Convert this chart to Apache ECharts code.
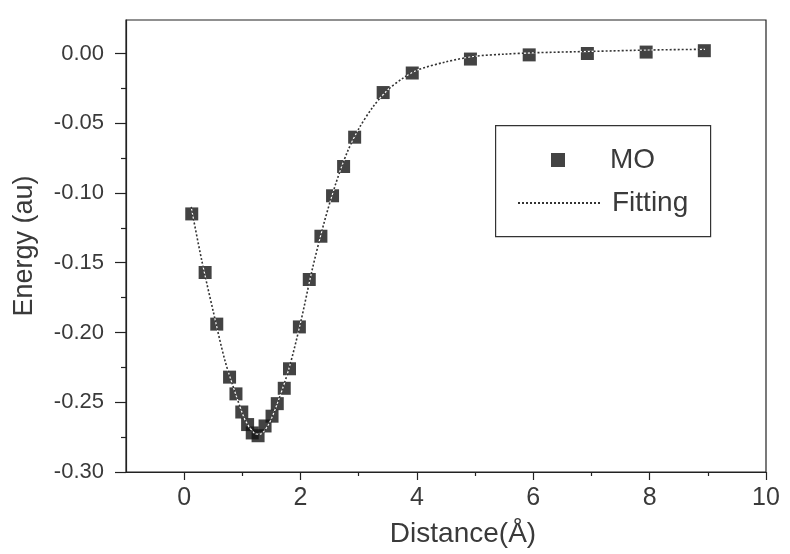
<!DOCTYPE html>
<html>
<head>
<meta charset="utf-8">
<script src="https://cdn.jsdelivr.net/npm/echarts@6/dist/echarts.min.js"></script>
<style>html,body{margin:0;padding:0;background:#fff}#c{width:790px;height:554px}</style>
</head>
<body>
<div id="c"></div>
<script>
// MO data points (Distance in Å, Energy in au)
const moX = [0.13,0.36,0.56,0.78,0.89,0.99,1.09,1.17,1.27,1.39,1.51,1.60,1.72,1.81,1.98,2.15,2.35,2.55,2.74,2.93,3.42,3.92,4.92,5.93,6.93,7.94,8.94];
const moY = [-0.115,-0.157,-0.194,-0.232,-0.244,-0.257,-0.266,-0.272,-0.274,-0.267,-0.260,-0.251,-0.240,-0.226,-0.196,-0.162,-0.131,-0.102,-0.081,-0.060,-0.028,-0.014,-0.004,-0.001,0.000,0.001,0.002];
// Fitting curve
const fitX = [0.12,0.3,0.5,0.7,0.9,1.05,1.2,1.3,1.45,1.6,1.8,2.0,2.2,2.4,2.6,2.8,3.0,3.25,3.5,3.75,4.0,4.5,5.0,5.5,6.0,7.0,8.0,8.95];
const fitY = [-0.110,-0.148,-0.185,-0.220,-0.246,-0.263,-0.272,-0.273,-0.266,-0.251,-0.226,-0.193,-0.155,-0.122,-0.094,-0.071,-0.054,-0.038,-0.026,-0.018,-0.012,-0.006,-0.002,-0.0005,0.0005,0.0015,0.0025,0.003];
// Tick values
const xMajorTicks = [0,2,4,6,8,10];
const xMinorTicks = [1,3,5,7,9];
const yMajorTicks = [-0.30,-0.25,-0.20,-0.15,-0.10,-0.05,0.00];
const yMinorTicks = [-0.275,-0.225,-0.175,-0.125,-0.075,-0.025];

const FONT = 'Liberation Sans, Arial, sans-serif';
const TXT = '#3a3a3a';
const AX = '#222';

const chart = echarts.init(document.getElementById('c'), null, {renderer:'canvas'});
const moData = moX.map((x,i)=>[x, moY[i]]);
const fitData = fitX.map((x,i)=>[x, fitY[i]]);

chart.setOption({
  animation:false,
  backgroundColor:'#fff',
  grid:{left:126, right:24, top:20, bottom:82, show:true, borderColor:AX, borderWidth:1.2, containLabel:false},
  xAxis:[{
    type:'value', min:-1, max:10,
    name:'Distance(Å)', nameLocation:'middle', nameGap:48,
    nameTextStyle:{fontFamily:FONT, fontSize:28, color:TXT, padding:[0,0,0,34], verticalAlign:'top'},
    axisLine:{show:true, onZero:false, lineStyle:{color:AX, width:1.2}},
    axisTick:{show:true, inside:false, length:8, customValues:xMajorTicks, lineStyle:{color:AX, width:1.2}},
    axisLabel:{show:true, customValues:xMajorTicks, margin:14, fontFamily:FONT, fontSize:25, color:TXT},
    splitLine:{show:false}
  },{
    type:'value', min:-1, max:10, position:'bottom',
    axisLine:{show:false, onZero:false},
    axisTick:{show:true, inside:false, length:4, customValues:xMinorTicks, lineStyle:{color:AX, width:1.2}},
    axisLabel:{show:false},
    splitLine:{show:false}
  }],
  yAxis:[{
    type:'value', min:-0.30, max:0.024,
    name:'Energy (au)', nameLocation:'middle', nameGap:88, nameRotate:90,
    nameTextStyle:{fontFamily:FONT, fontSize:27, color:TXT},
    axisLine:{show:true, onZero:false, lineStyle:{color:AX, width:1.2}},
    axisTick:{show:true, inside:false, length:11, customValues:yMajorTicks, lineStyle:{color:AX, width:1.2}},
    axisLabel:{show:true, customValues:yMajorTicks, margin:22, fontFamily:FONT, fontSize:22, color:TXT,
      formatter:(v)=>v.toFixed(2)},
    splitLine:{show:false}
  },{
    type:'value', min:-0.30, max:0.024, position:'left',
    axisLine:{show:false, onZero:false},
    axisTick:{show:true, inside:false, length:5, customValues:yMinorTicks, lineStyle:{color:AX, width:1.2}},
    axisLabel:{show:false},
    splitLine:{show:false}
  }],
  legend:[{
    data:[{name:'MO', icon:'rect'}],
    left:551, top:146, padding:0, itemWidth:14, itemHeight:14,
    textStyle:{fontFamily:FONT, fontSize:28, color:TXT, padding:[0,0,0,40]},
    selectedMode:false
  },{
    data:[{name:'Fitting', itemStyle:{color:'rgba(0,0,0,0)', borderWidth:0, opacity:0}}],
    left:517, top:189, padding:0, itemWidth:83, itemHeight:13,
    textStyle:{fontFamily:FONT, fontSize:28, color:TXT, padding:[0,0,0,6]},
    selectedMode:false
  }],
  graphic:[{
    type:'rect', left:495, top:125, z:0,
    shape:{width:215, height:111},
    style:{fill:'#fff', stroke:'#333', lineWidth:1.2}
  }],
  series:[{
    name:'MO', type:'scatter', data:moData,
    symbol:'rect', symbolSize:13,
    itemStyle:{color:'#141414'},
    z:2
  },{
    name:'Fitting', type:'line', data:fitData, smooth:0.3,
    showSymbol:false, symbol:'none',
    itemStyle:{color:'#333'},
    lineStyle:{color:'#333', width:1.6, type:[2,2]},
    z:5
  },{
    name:'Fitting', type:'line', data:fitData, smooth:0.3,
    showSymbol:false, symbol:'none',
    itemStyle:{color:'#fff'},
    lineStyle:{color:'#fff', width:1.2, type:'solid'},
    z:4
  }]
});
</script>
</body>
</html>
